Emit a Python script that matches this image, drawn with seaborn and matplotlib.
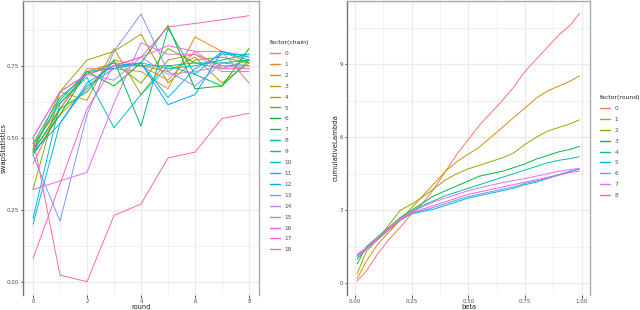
import numpy as np
import pandas as pd
import matplotlib
matplotlib.use("Agg")
import matplotlib.pyplot as plt
import seaborn as sns

# ---------------- data: left panel (swapStatistics by round, per chain) ----------------
rounds = [0, 1, 2, 3, 4, 5, 6, 7, 8]
chains = [str(i) for i in range(19)]
swap_0 = [0.41, 0.60, 0.73, 0.76, 0.75, 0.70, 0.80, 0.80, 0.69]
swap_1 = [0.48, 0.60, 0.74, 0.74, 0.73, 0.67, 0.85, 0.80, 0.76]
swap_2 = [0.46, 0.58, 0.67, 0.77, 0.75, 0.73, 0.78, 0.69, 0.76]
swap_3 = [0.45, 0.66, 0.63, 0.81, 0.65, 0.77, 0.79, 0.75, 0.75]
swap_4 = [0.32, 0.66, 0.77, 0.80, 0.86, 0.69, 0.77, 0.78, 0.76]
swap_5 = [0.47, 0.62, 0.72, 0.76, 0.69, 0.81, 0.76, 0.74, 0.77]
swap_6 = [0.44, 0.58, 0.73, 0.68, 0.76, 0.89, 0.67, 0.68, 0.81]
swap_7 = [0.45, 0.60, 0.66, 0.77, 0.54, 0.88, 0.72, 0.68, 0.77]
swap_8 = [0.48, 0.64, 0.72, 0.75, 0.75, 0.75, 0.76, 0.76, 0.77]
swap_9 = [0.46, 0.63, 0.73, 0.74, 0.76, 0.74, 0.75, 0.77, 0.79]
swap_10 = [0.22, 0.62, 0.71, 0.535, 0.65, 0.75, 0.72, 0.80, 0.77]
swap_11 = [0.20, 0.55, 0.68, 0.74, 0.76, 0.64, 0.74, 0.79, 0.79]
swap_12 = [0.45, 0.55, 0.69, 0.75, 0.76, 0.615, 0.65, 0.80, 0.78]
swap_13 = [0.44, 0.21, 0.58, 0.80, 0.93, 0.73, 0.68, 0.76, 0.75]
swap_14 = [0.50, 0.66, 0.72, 0.70, 0.78, 0.72, 0.73, 0.75, 0.74]
swap_15 = [0.32, 0.35, 0.38, 0.62, 0.83, 0.79, 0.79, 0.73, 0.73]
swap_16 = [0.50, 0.66, 0.72, 0.75, 0.78, 0.82, 0.80, 0.74, 0.74]
swap_17 = [0.08, 0.34, 0.60, 0.75, 0.78, 0.885, 0.897, 0.91, 0.924]
swap_18 = [0.50, 0.023, 0.0, 0.23, 0.27, 0.43, 0.45, 0.567, 0.585]
swap_all = [swap_0, swap_1, swap_2, swap_3, swap_4, swap_5, swap_6, swap_7, swap_8,
            swap_9, swap_10, swap_11, swap_12, swap_13, swap_14, swap_15, swap_16,
            swap_17, swap_18]

# ---------------- data: right panel (cumulativeLambda by beta, per round) ----------------
beta = [0.01, 0.05, 0.10, 0.15, 0.20, 0.25, 0.30, 0.35, 0.40, 0.45, 0.50,
        0.55, 0.60, 0.65, 0.70, 0.75, 0.80, 0.85, 0.90, 0.95, 0.99]
round_levels = [str(i) for i in range(9)]
lam_0 = [0.10, 0.50, 1.20, 1.80, 2.30, 2.85, 3.30, 3.90, 4.60, 5.30, 5.90,
         6.50, 7.00, 7.50, 8.05, 8.70, 9.20, 9.70, 10.20, 10.60, 11.07]
lam_1 = [0.20, 0.90, 1.60, 2.10, 2.60, 3.10, 3.60, 4.10, 4.60, 5.00, 5.30,
         5.60, 6.00, 6.40, 6.80, 7.20, 7.60, 7.90, 8.10, 8.30, 8.52]
lam_2 = [0.40, 1.30, 1.80, 2.40, 3.00, 3.25, 3.55, 3.90, 4.25, 4.50, 4.70,
         4.85, 5.00, 5.15, 5.35, 5.70, 6.00, 6.25, 6.40, 6.55, 6.71]
lam_3 = [0.80, 1.50, 1.90, 2.30, 2.70, 3.00, 3.30, 3.60, 3.80, 4.00, 4.20,
         4.40, 4.50, 4.60, 4.75, 4.90, 5.10, 5.25, 5.40, 5.50, 5.62]
lam_4 = [1.00, 1.40, 1.80, 2.20, 2.60, 2.95, 3.20, 3.40, 3.60, 3.75, 3.90,
         4.05, 4.20, 4.35, 4.50, 4.65, 4.80, 4.95, 5.05, 5.12, 5.20]
lam_5 = [1.10, 1.45, 1.80, 2.20, 2.60, 2.85, 2.95, 3.05, 3.20, 3.35, 3.50,
         3.60, 3.70, 3.80, 3.90, 4.05, 4.15, 4.30, 4.45, 4.60, 4.70]
lam_6 = [1.15, 1.45, 1.80, 2.20, 2.60, 2.88, 3.00, 3.12, 3.27, 3.42, 3.56,
         3.66, 3.76, 3.86, 3.96, 4.10, 4.20, 4.33, 4.47, 4.60, 4.68]
lam_7 = [1.20, 1.45, 1.85, 2.25, 2.65, 2.92, 3.15, 3.35, 3.50, 3.65, 3.80,
         3.92, 4.03, 4.13, 4.22, 4.30, 4.40, 4.50, 4.60, 4.67, 4.72]
lam_8 = [1.10, 1.40, 1.80, 2.20, 2.60, 2.88, 3.05, 3.20, 3.35, 3.50, 3.65,
         3.75, 3.85, 3.95, 4.05, 4.15, 4.25, 4.35, 4.45, 4.55, 4.60]
lam_all = [lam_0, lam_1, lam_2, lam_3, lam_4, lam_5, lam_6, lam_7, lam_8]


# ---------------- ggplot-like hue palette (HCL, c=100, l=65) ----------------
def hcl_to_hex(h, c=100.0, l=65.0):
    Xn, Yn, Zn = 95.047, 100.0, 108.883
    un = 4 * Xn / (Xn + 15 * Yn + 3 * Zn)
    vn = 9 * Yn / (Xn + 15 * Yn + 3 * Zn)
    hr = np.deg2rad(h)
    u, v = c * np.cos(hr), c * np.sin(hr)
    Y = Yn * ((l + 16) / 116) ** 3 if l > 8 else Yn * l / 903.3
    up = u / (13 * l) + un
    vp = v / (13 * l) + vn
    X = Y * 9 * up / (4 * vp)
    Z = Y * (12 - 3 * up - 20 * vp) / (4 * vp)
    X, Y, Z = X / 100, Y / 100, Z / 100
    r = 3.2404542 * X - 1.5371385 * Y - 0.4985314 * Z
    g = -0.9692660 * X + 1.8760108 * Y + 0.0415560 * Z
    b = 0.0556434 * X - 0.2040259 * Y + 1.0572252 * Z

    def gam(t):
        t = min(max(t, 0.0), 1.0)
        return 12.92 * t if t <= 0.0031308 else 1.055 * t ** (1 / 2.4) - 0.055

    return "#%02x%02x%02x" % tuple(int(round(gam(t) * 255)) for t in (r, g, b))


def hue_pal(n):
    hues = np.linspace(15, 375, n + 1)[:n]
    return [hcl_to_hex(h) for h in hues]


# ---------------- long tables ----------------
df_swap = pd.DataFrame(
    [(r, ch, v) for ch, vals in zip(chains, swap_all) for r, v in zip(rounds, vals)],
    columns=["round", "chain", "swapStatistics"],
)
df_lam = pd.DataFrame(
    [(b, rd, v) for rd, vals in zip(round_levels, lam_all) for b, v in zip(beta, vals)],
    columns=["beta", "round", "cumulativeLambda"],
)

sns.set_theme(style="white")
plt.rcParams["font.family"] = ["DejaVu Sans"]

fig = plt.figure(figsize=(6.4, 3.1), dpi=100)
W, H = 640, 310


def add_axes_px(l, r, t, b):
    return fig.add_axes([l / W, 1 - b / H, (r - l) / W, (b - t) / H])


ax1 = add_axes_px(23, 259, 1, 295)
ax2 = add_axes_px(347, 590, 1, 295)

tick_col = "#4d4d4d"
grid_col = "#ebebeb"

sns.lineplot(data=df_swap, x="round", y="swapStatistics", hue="chain",
             hue_order=chains, palette=hue_pal(19), ax=ax1, linewidth=0.7,
             estimator=None, sort=True)
sns.lineplot(data=df_lam, x="beta", y="cumulativeLambda", hue="round",
             hue_order=round_levels, palette=hue_pal(9), ax=ax2, linewidth=0.7,
             estimator=None, sort=True)

ax1.set_xlim(-0.37, 8.37)
ax1.set_ylim(-0.046, 0.975)
ax1.set_xticks([0, 2, 4, 6, 8])
ax1.set_xticks([1, 3, 5, 7], minor=True)
ax1.set_yticks([0.0, 0.25, 0.5, 0.75])
ax1.set_yticks([0.125, 0.375, 0.625, 0.875], minor=True)
ax1.set_yticklabels(["0.00", "0.25", "0.50", "0.75"])

ax2.set_xlim(-0.035, 1.037)
ax2.set_ylim(-0.48, 11.59)
ax2.set_xticks([0.0, 0.25, 0.5, 0.75, 1.0])
ax2.set_xticklabels(["0.00", "0.25", "0.50", "0.75", "1.00"])
ax2.set_xticks([0.125, 0.375, 0.625, 0.875], minor=True)
ax2.set_yticks([0, 3, 6, 9])
ax2.set_yticks([1.5, 4.5, 7.5, 10.5], minor=True)

for ax, xl, yl in [(ax1, "round", "swapStatistics"), (ax2, "beta", "cumulativeLambda")]:
    ax.set_facecolor("white")
    ax.grid(True, which="major", color=grid_col, linewidth=1.0)
    ax.grid(True, which="minor", color=grid_col, linewidth=0.5)
    ax.set_axisbelow(True)
    ax.tick_params(which="major", direction="out", length=1.8, width=0.6,
                   color="#333333", labelsize=4.0, labelcolor=tick_col, pad=1.0,
                   bottom=True, left=True)
    ax.tick_params(which="minor", length=0)
    ax.set_xlabel(xl, fontsize=4.8, color="#222222")
    ax.set_ylabel(yl, fontsize=5.0, color="#222222")
    ax.spines["bottom"].set_visible(False)
    ax.spines["left"].set_color("#777777")
    ax.spines["top"].set_color("#aaaaaa")
    ax.spines["right"].set_color("#aaaaaa")
    for s in ["left", "top", "right"]:
        ax.spines[s].set_linewidth(1.0)

# axis title positions (pixels -> axes coords)
ax1.yaxis.set_label_coords((6.5 - 23) / 236, 0.5)
ax1.xaxis.set_label_coords(0.5, (295 - 303.8) / 294)
ax2.yaxis.set_label_coords((338.5 - 347) / 243, 0.5)
ax2.xaxis.set_label_coords(0.5, (295 - 303.8) / 294)

leg_kw = dict(frameon=False, fontsize=4.2, title_fontsize=4.4, handlelength=1.7,
              handletextpad=0.8, labelspacing=1.0, borderpad=0, borderaxespad=0,
              alignment="left")
sns.move_legend(ax1, loc="upper left", bbox_to_anchor=(270 / W, 1 - 40 / H),
                bbox_transform=fig.transFigure, title="factor(chain)", **leg_kw)
sns.move_legend(ax2, loc="upper left", bbox_to_anchor=(600 / W, 1 - 95 / H),
                bbox_transform=fig.transFigure, title="factor(round)", **leg_kw)
for ax in (ax1, ax2):
    leg = ax.get_legend()
    leg.get_title().set_color("#222222")
    for t in leg.get_texts():
        t.set_color(tick_col)
    for ln in leg.get_lines():
        ln.set_linewidth(1.0)

fig.savefig("out.png", dpi=100)
